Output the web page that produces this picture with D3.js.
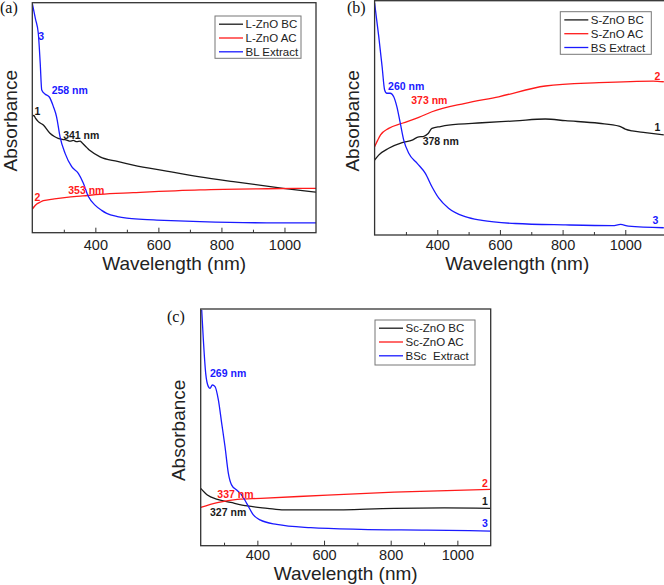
<!DOCTYPE html>
<html><head><meta charset="utf-8">
<script src="https://cdn.jsdelivr.net/npm/d3@7"></script>
<style>body{margin:0;background:#fff}svg{display:block}</style>
</head><body>
<script>
// ---------- DATA ----------
// Panel (a)
const wlA_BC  = [200,205,210,219,235,256,270,282,300,309,320,330,341,352,357,373,383,415,470,520,626,732,838,996,1100];
const absA_BC = [0.504,0.51,0.498,0.483,0.468,0.432,0.418,0.41,0.405,0.403,0.398,0.401,0.396,0.398,0.392,0.37,0.357,0.33,0.31,0.294,0.268,0.243,0.222,0.193,0.176];
const wlA_AC  = [200,207,214,225,235,270,309,360,415,520,732,944,1100];
const absA_AC = [0.102,0.115,0.125,0.133,0.139,0.147,0.154,0.16,0.167,0.174,0.186,0.191,0.193];
const wlA_EX  = [200,210,219,225,230,240,254,267,277,288,304,325,346,362,378,399,420,436,470,500,550,595,732,944,1100];
const absA_EX = [0.997,0.93,0.867,0.74,0.62,0.603,0.59,0.548,0.504,0.417,0.345,0.287,0.258,0.215,0.157,0.12,0.097,0.084,0.07,0.063,0.058,0.055,0.048,0.043,0.043];

// Panel (b)
const wlB_BC  = [200,213,245,288,320,341,355,370,383,410,436,543,649,745,809,916,980,1000,1022,1064,1123];
const absB_BC = [0.32,0.341,0.37,0.394,0.405,0.419,0.42,0.432,0.455,0.463,0.469,0.479,0.487,0.495,0.488,0.477,0.465,0.452,0.444,0.437,0.427];
const wlB_AC  = [200,210,219,245,288,341,383,489,596,745,916,1089,1123];
const absB_AC = [0.377,0.405,0.427,0.455,0.477,0.502,0.526,0.562,0.59,0.636,0.65,0.657,0.654];
const wlB_EX  = [200,213,224,232,239,250,261,271,282,293,309,336,362,383,405,436,489,543,649,809,960,985,1010,1123];
const absB_EX = [0.99,0.85,0.718,0.619,0.605,0.605,0.59,0.548,0.477,0.405,0.349,0.306,0.263,0.206,0.157,0.114,0.078,0.062,0.049,0.043,0.04,0.045,0.038,0.031];

// Panel (c)
const wlC_BC  = [230,250,280,320,370,430,480,610,810,960,1100];
const absC_BC = [0.242,0.214,0.196,0.183,0.168,0.158,0.151,0.151,0.158,0.16,0.158];
const wlC_AC  = [230,280,340,410,610,810,1100];
const absC_AC = [0.162,0.182,0.196,0.2,0.214,0.226,0.238];
const wlC_EX  = [233,238,245,253,258,265,273,283,293,303,313,323,338,353,368,388,408,458,560,710,908,1100];
const absC_EX = [0.996,0.869,0.728,0.672,0.665,0.679,0.672,0.616,0.517,0.418,0.306,0.256,0.235,0.214,0.179,0.13,0.109,0.09,0.076,0.069,0.066,0.062];

// Legends
const legendA = ["L-ZnO BC","L-ZnO AC","BL Extract"];
const legendB = ["S-ZnO BC","S-ZnO AC","BS Extract"];
const legendC = ["Sc-ZnO BC","Sc-ZnO AC","BSc  Extract"];

// Ticks
const majorTicks = [400,600,800,1000];
const minorTicksAB = [300,500,700,900];
const minorTicksC = [300,500,700,900];

// Annotations: [text, series index, wavelength, absorbance]
const annA = [["3",2,219,0.836],["258 nm",2,261.5,0.601],["1",0,207,0.51],["341 nm",0,298,0.409],["2",1,207,0.14],["353 nm",1,314,0.168]];
const annB = [["260 nm",2,243,0.619],["373 nm",1,317,0.559],["378 nm",0,353.5,0.386],["2",1,1093,0.662],["1",0,1093,0.442],["3",2,1087,0.047]];
const annC = [["269 nm",2,258,0.711],["337 nm",1,280,0.2015],["327 nm",0,258,0.127],["2",1,1074,0.249],["1",0,1074,0.172],["3",2,1074,0.078]];

// ---------- DRAW ----------
const FONT = "'Liberation Sans', Arial, sans-serif";
const colors = ["#1a1a1a","#ff1a1a","#1a1aff"];
const W = 664, H = 585;
const svg = d3.select("body").append("svg").attr("width",W).attr("height",H)
  .style("font-family",FONT);

const panels = [
  {label:"(a)", lx:0, ly:13, left:32.3, right:316, top:2.7, bottom:232.7, xd:[200,1100],
   series:[[wlA_BC,absA_BC],[wlA_AC,absA_AC],[wlA_EX,absA_EX]], legend:legendA, ann:annA,
   minor:minorTicksAB, lg:{x:215,y:16,w:86,h:42.3}, pad:7.4, tOff:37.5, yT:15.5},
  {label:"(b)", lx:347, ly:13, left:374.6, right:666, top:0.7, bottom:235, xd:[200,1130],
   series:[[wlB_BC,absB_BC],[wlB_AC,absB_AC],[wlB_EX,absB_EX]], legend:legendB, ann:annB,
   minor:minorTicksAB, lg:{x:560.3,y:11.7,w:91,h:42.6}, pad:5, tOff:35.2, yT:16},
  {label:"(c)", lx:167, ly:322, left:200.7, right:490.7, top:309, bottom:545.7, xd:[230,1100],
   series:[[wlC_BC,absC_BC],[wlC_AC,absC_AC],[wlC_EX,absC_EX]], legend:legendC, ann:annC,
   minor:minorTicksC, lg:{x:375,y:320,w:100,h:45}, pad:4.5, tOff:34.6, yT:16}
];

panels.forEach((p,pi)=>{
  const x = d3.scaleLinear().domain(p.xd).range([p.left,p.right]);
  const y = d3.scaleLinear().domain([0,1]).range([p.bottom,p.top]);
  const g = svg.append("g");
  const cid = "clip"+pi;
  g.append("clipPath").attr("id",cid).append("rect")
    .attr("x",p.left).attr("y",p.top).attr("width",p.right-p.left).attr("height",p.bottom-p.top);

  const line = d3.line().x(d=>x(d[0])).y(d=>y(d[1])).curve(d3.curveMonotoneX);
  p.series.forEach((s,i)=>{
    const pts = s[0].map((w,k)=>[w,s[1][k]]);
    g.append("path").attr("d",line(pts)).attr("fill","none")
      .attr("stroke",colors[i]).attr("stroke-width",1.3).attr("clip-path",`url(#${cid})`);
  });

  // frame
  g.append("rect").attr("x",p.left).attr("y",p.top).attr("width",p.right-p.left).attr("height",p.bottom-p.top)
    .attr("fill","none").attr("stroke","#333").attr("stroke-width",1.3);

  // axes
  const ax = g.append("g").attr("transform",`translate(0,${p.bottom})`)
    .call(d3.axisBottom(x).tickValues(majorTicks).tickSize(-5).tickPadding(p.pad).tickFormat(d3.format("d")));
  ax.select(".domain").remove();
  ax.selectAll("line").attr("stroke","#333");
  ax.selectAll("text").attr("font-size","14.5px").attr("font-family",FONT).attr("fill","#222");
  const mx = g.append("g").attr("transform",`translate(0,${p.bottom})`)
    .call(d3.axisBottom(x).tickValues(p.minor).tickSize(-3).tickFormat(""));
  mx.select(".domain").remove();
  mx.selectAll("line").attr("stroke","#333");

  // axis titles
  g.append("text").attr("x",(p.left+p.right)/2 - (pi==1?3:0)).attr("y",p.bottom+p.tOff)
    .attr("text-anchor","middle").attr("font-size","19px").attr("fill","#222").text("Wavelength (nm)");
  g.append("text").attr("transform",`translate(${p.left-p.yT},${(p.top+p.bottom)/2 + 3}) rotate(-90)`)
    .attr("text-anchor","middle").attr("font-size","19px").attr("fill","#222").text("Absorbance");

  // panel label
  g.append("text").attr("x",p.lx).attr("y",p.ly).attr("font-family","'Liberation Serif','Times New Roman',serif")
    .attr("font-size","16px").attr("fill","#111").text(p.label);

  // legend
  const L = p.lg;
  const lg = g.append("g");
  lg.append("rect").attr("x",L.x).attr("y",L.y).attr("width",L.w).attr("height",L.h)
    .attr("fill","#fff").attr("stroke","#777").attr("stroke-width",1);
  p.legend.forEach((t,i)=>{
    const yy = L.y + 8.2 + i*13.8;
    lg.append("line").attr("x1",L.x+4).attr("x2",L.x+28).attr("y1",yy).attr("y2",yy)
      .attr("stroke",colors[i]).attr("stroke-width",1.3);
    lg.append("text").attr("x",L.x+30.5).attr("y",yy+4).attr("font-size","11.5px").attr("fill","#222")
      .attr("xml:space","preserve").style("white-space","pre").text(t);
  });

  // annotations
  p.ann.forEach(a=>{
    g.append("text").attr("x",x(a[2])).attr("y",y(a[3])).attr("font-size","10.5px")
      .attr("font-weight","bold").attr("fill",colors[a[1]]).text(a[0]);
  });
});
</script>
</body></html>
